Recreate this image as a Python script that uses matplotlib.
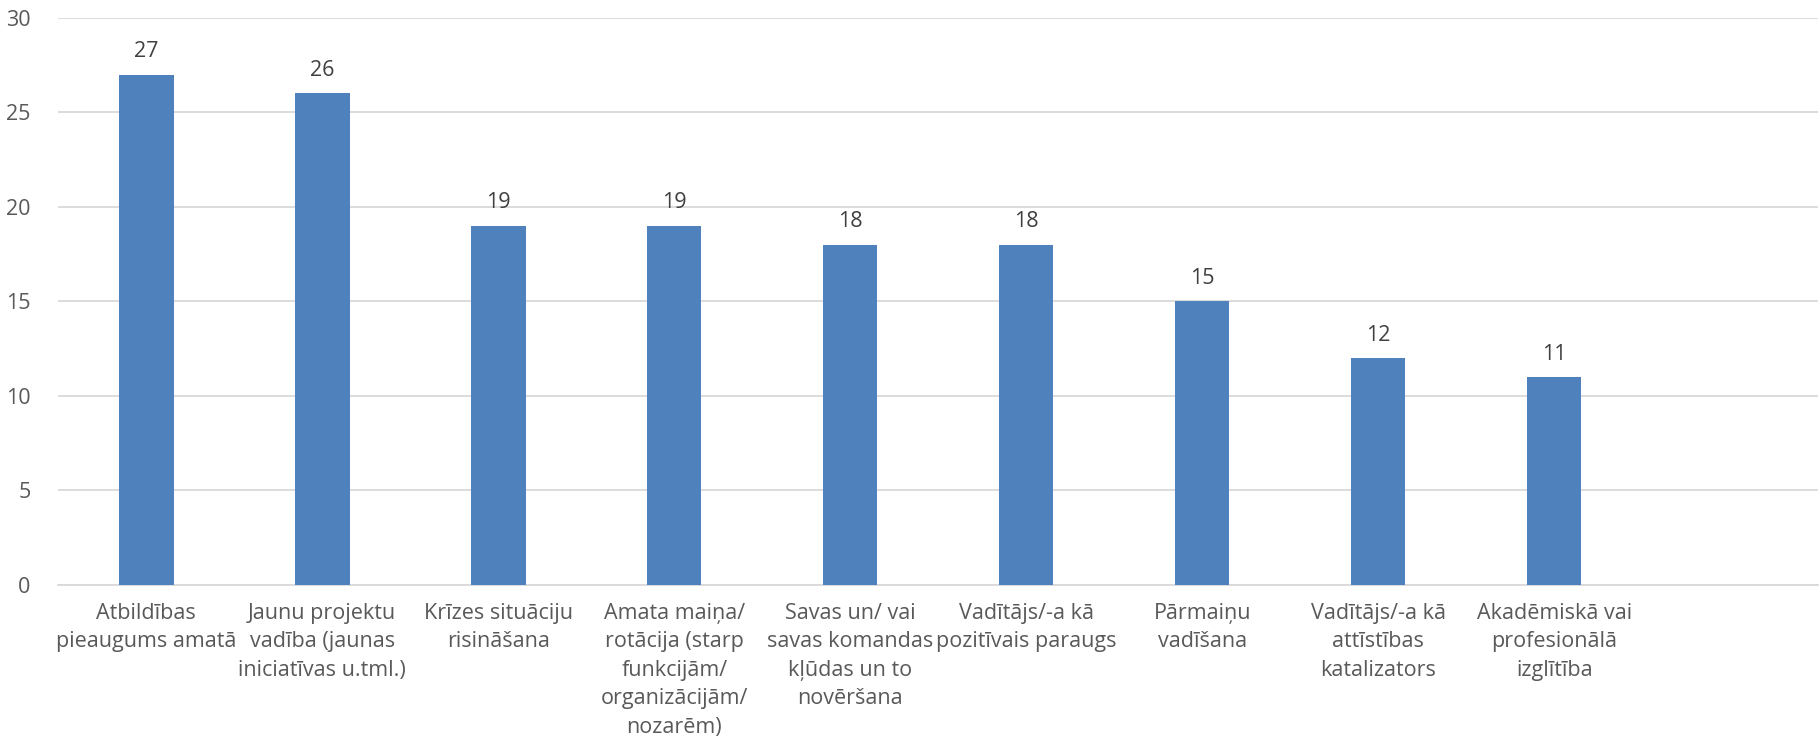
import numpy as np
import matplotlib
matplotlib.use("Agg")
import matplotlib.pyplot as plt

plt.rcParams['font.family'] = ['Open Sans', 'DejaVu Sans']

labels = [
    "Atbildības\npieaugums amatā",
    "Jaunu projektu\nvadība (jaunas\niniciatīvas u.tml.)",
    "Krīzes situāciju\nrisināšana",
    "Amata maiņa/\nrotācija (starp\nfunkcijām/\norganizācijām/\nnozarēm)",
    "Savas un/ vai\nsavas komandas\nkļūdas un to\nnovēršana",
    "Vadītājs/-a kā\npozitīvais paraugs",
    "Pārmaiņu\nvadīšana",
    "Vadītājs/-a kā\nattīstības\nkatalizators",
    "Akadēmiskā vai\nprofesionālā\nizglītība",
    "",
]
values = [27, 26, 19, 19, 18, 18, 15, 12, 11]
yticks = [0, 5, 10, 15, 20, 25, 30]

text_col = "#595959"
bar_col = "#4F81BD"
grid_col = "#D9D9D9"

fig = plt.figure(figsize=(18.2, 7.44), dpi=100)
ax = fig.add_axes([0.032, 0.214, 0.967, 0.762])

x = np.arange(len(labels))
bars = ax.bar(x[:len(values)], values, width=0.31, color=bar_col, zorder=3)
for b, v in zip(bars, values):
    ax.text(b.get_x() + b.get_width() / 2, v + 0.65, str(v), ha="center", va="bottom",
            fontsize=15.5, color="#404040")

ax.set_xlim(-0.5, len(labels) - 0.5)
ax.set_ylim(0, 30)
ax.set_yticks(yticks)
ax.set_xticks(x)
ax.set_xticklabels(labels, fontsize=15.5, color=text_col, linespacing=1.47)
ax.tick_params(axis="y", labelsize=15.5, labelcolor=text_col, length=0, pad=20)
ax.tick_params(axis="x", length=0, pad=13)
ax.yaxis.grid(True, color=grid_col, linewidth=1.3, zorder=0)
for s in ["top", "right", "left"]:
    ax.spines[s].set_visible(False)
ax.spines["bottom"].set_color(grid_col)
ax.spines["bottom"].set_linewidth(1.3)

fig.savefig("out.png", dpi=100)
